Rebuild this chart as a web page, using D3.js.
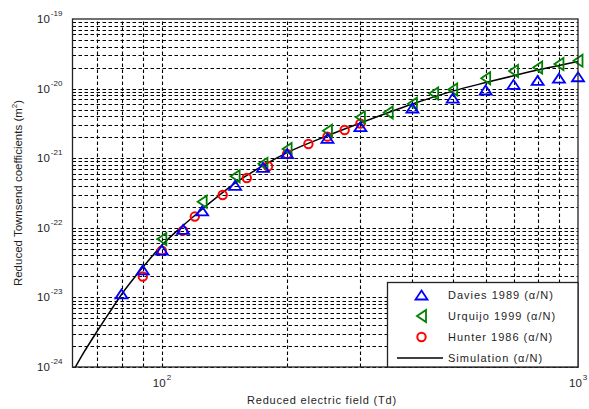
<!DOCTYPE html>
<html>
<head>
<meta charset="utf-8">
<script src="https://cdn.jsdelivr.net/npm/d3@7"></script>
<style>
    body { margin: 0; background: #fff; }
    text { font-family: "Liberation Sans", Arial, sans-serif; fill: #1e1e1e; }
</style>
</head>
<body>
<div class="visualization"></div>
<script>
// Davies 1989 (alpha/N)
const daviesField = [80, 90, 100, 112.5, 125, 150, 175, 200, 250, 300, 400, 500, 600, 700, 800, 900, 1000];
const daviesAlpha = [1.12e-23, 2.48e-23, 4.8e-23, 9.5e-23, 1.75e-22, 4.07e-22, 7.4e-22, 1.16e-21, 1.93e-21, 2.84e-21, 5.26e-21, 7.3e-21, 9.55e-21, 1.15e-20, 1.31e-20, 1.41e-20, 1.48e-20];

// Urquijo 1999 (alpha/N)
const urquijoField = [100, 125, 150, 175, 200, 250, 300, 350, 400, 450, 500, 600, 700, 800, 900, 1000];
const urquijoAlpha = [6.9e-23, 2.37e-22, 5.5e-22, 8.3e-22, 1.36e-21, 2.48e-21, 3.87e-21, 4.54e-21, 6.08e-21, 8.5e-21, 9.7e-21, 1.41e-20, 1.79e-20, 2.01e-20, 2.26e-20, 2.52e-20];

// Hunter 1986 (alpha/N)
const hunterField = [90, 100, 112.5, 120, 140, 160, 180, 200, 225, 250, 275, 300];
const hunterAlpha = [2.0e-23, 4.7e-23, 9.1e-23, 1.45e-22, 2.96e-22, 5.2e-22, 7.65e-22, 1.15e-21, 1.6e-21, 2.04e-21, 2.54e-21, 3.14e-21];

// Simulation (alpha/N)
const simField = [62, 65, 70, 75, 80, 90, 100, 112.5, 125, 150, 175, 200, 250, 300, 400, 500, 600, 700, 800, 900, 1000];
const simAlpha = [1.0e-24, 1.63e-24, 3.3e-24, 6.2e-24, 1.1e-23, 2.7e-23, 5.6e-23, 1.08e-22, 1.85e-22, 4.4e-22, 7.8e-22, 1.2e-21, 2.1e-21, 3.2e-21, 6.0e-21, 9.2e-21, 1.22e-20, 1.53e-20, 1.85e-20, 2.15e-20, 2.45e-20];

const xMajor = [100, 1000];
const xMinor = [70, 80, 90, 200, 300, 400, 500, 600, 700, 800, 900];
const yExponents = [-24, -23, -22, -21, -20, -19];

const legendNames = ['Davies 1989 (\u03b1/N)', 'Urquijo 1999 (\u03b1/N)', 'Hunter 1986 (\u03b1/N)', 'Simulation (\u03b1/N)'];

const divWidth = 589;
const divHeight = 409;
const margin = { top: 19, right: 11, bottom: 42, left: 72.5 };

let svg = d3.select('.visualization')
    .append('svg')
    .attr('width', divWidth)
    .attr('height', divHeight);

svg.append('rect')
    .attr('width', '100%')
    .attr('height', '100%')
    .attr('fill', '#fff');

const xScale = d3.scaleLog()
    .domain([61, 1000])
    .range([margin.left, divWidth - margin.right]);

const yScale = d3.scaleLog()
    .domain([1e-24, 1e-19])
    .range([divHeight - margin.bottom, margin.top]);

// all the grid lines, major and minor, dashed
let yGridVals = [];
for (let e = -24; e < -19; e++) {
    for (let m = 1; m < 10; m++) yGridVals.push(m * Math.pow(10, e));
}
let xGridVals = xMinor.concat([100]);

const grid = svg.append('g').attr('class', 'grid');

grid.selectAll('.hgrid')
    .data(yGridVals)
    .join('line')
    .attr('class', 'hgrid')
    .attr('x1', xScale.range()[0])
    .attr('x2', xScale.range()[1])
    .attr('y1', d => Math.round(yScale(d)) + 0.5)
    .attr('y2', d => Math.round(yScale(d)) + 0.5)
    .attr('stroke', '#000')
    .attr('stroke-width', 1.1)
    .attr('stroke-dasharray', '3.5,2.5');

grid.selectAll('.vgrid')
    .data(xGridVals)
    .join('line')
    .attr('class', 'vgrid')
    .attr('y1', yScale.range()[0])
    .attr('y2', yScale.range()[1])
    .attr('x1', d => Math.round(xScale(d)) + 0.5)
    .attr('x2', d => Math.round(xScale(d)) + 0.5)
    .attr('stroke', '#000')
    .attr('stroke-width', 1.1)
    .attr('stroke-dasharray', '3.5,2.5');

// simulation curve
const line = d3.line()
    .x(d => xScale(d[0]))
    .y(d => yScale(d[1]))
    .curve(d3.curveMonotoneX);

svg.append('path')
    .datum(d3.zip(simField, simAlpha))
    .attr('d', line)
    .attr('fill', 'none')
    .attr('stroke', '#000')
    .attr('stroke-width', 1.5);

// marker shapes
const triUp = 'M0,-4.5L6,4.5L-6,4.5Z';
const triLeft = 'M-4.5,0L4.5,-6L4.5,6Z';

svg.append('g')
    .selectAll('path')
    .data(d3.zip(hunterField, hunterAlpha))
    .join('circle')
    .attr('cx', d => xScale(d[0]))
    .attr('cy', d => yScale(d[1]))
    .attr('r', 4.2)
    .attr('fill', 'none')
    .attr('stroke', '#ff0000')
    .attr('stroke-width', 2);

svg.append('g')
    .selectAll('path')
    .data(d3.zip(urquijoField, urquijoAlpha))
    .join('path')
    .attr('d', triLeft)
    .attr('transform', d => `translate(${xScale(d[0])},${yScale(d[1])})`)
    .attr('fill', 'none')
    .attr('stroke', '#008000')
    .attr('stroke-width', 1.8);

svg.append('g')
    .selectAll('path')
    .data(d3.zip(daviesField, daviesAlpha))
    .join('path')
    .attr('d', triUp)
    .attr('transform', d => `translate(${xScale(d[0])},${yScale(d[1])})`)
    .attr('fill', 'none')
    .attr('stroke', '#0000ff')
    .attr('stroke-width', 1.8);

// axes box
svg.append('rect')
    .attr('x', xScale.range()[0])
    .attr('y', yScale.range()[1])
    .attr('width', xScale.range()[1] - xScale.range()[0])
    .attr('height', yScale.range()[0] - yScale.range()[1])
    .attr('fill', 'none')
    .attr('stroke', '#222')
    .attr('stroke-width', 1.3);

// tick labels with superscripts
const yLabels = svg.append('g')
    .selectAll('text')
    .data(yExponents)
    .join('text')
    .attr('x', 37)
    .attr('y', d => yScale(Math.pow(10, d)) + 4)
    .attr('font-size', '11.5px');
yLabels.append('tspan').text('10');
yLabels.append('tspan')
    .attr('dy', -7)
    .attr('dx', 1)
    .attr('font-size', '8px')
    .text(d => d);

const xLabels = svg.append('g')
    .selectAll('text')
    .data(xMajor)
    .join('text')
    .attr('x', d => xScale(d) - 9)
    .attr('y', 387)
    .attr('font-size', '11.5px');
xLabels.append('tspan').text('10');
xLabels.append('tspan')
    .attr('dy', -7)
    .attr('dx', 1)
    .attr('font-size', '8px')
    .text(d => Math.round(Math.log10(d)));

// axis titles
svg.append('text')
    .attr('x', 322)
    .attr('y', 404)
    .attr('text-anchor', 'middle')
    .attr('font-size', '11px')
    .attr('letter-spacing', '0.8px')
    .text('Reduced electric field (Td)');

let yTitle = svg.append('text')
    .attr('transform', 'translate(22,193) rotate(-90)')
    .attr('text-anchor', 'middle')
    .attr('font-size', '11.5px');
yTitle.append('tspan').text('Reduced Townsend coefficients (m');
yTitle.append('tspan').attr('dy', -5).attr('font-size', '8px').text('2');
yTitle.append('tspan').attr('dy', 5).text(')');

// legend
const legend = svg.append('g').attr('class', 'legend');

legend.append('rect')
    .attr('x', 387.5)
    .attr('y', 282.5)
    .attr('width', xScale.range()[1] - 387.5)
    .attr('height', yScale.range()[0] - 282.5)
    .attr('fill', '#fff')
    .attr('stroke', '#222')
    .attr('stroke-width', 1.3);

const legendY = [295, 316, 337, 358];
const markerX = 421.5;

legend.append('path')
    .attr('d', triUp)
    .attr('transform', `translate(${markerX},${legendY[0]})`)
    .attr('fill', 'none')
    .attr('stroke', '#0000ff')
    .attr('stroke-width', 1.8);

legend.append('path')
    .attr('d', triLeft)
    .attr('transform', `translate(${markerX},${legendY[1]})`)
    .attr('fill', 'none')
    .attr('stroke', '#008000')
    .attr('stroke-width', 1.8);

legend.append('circle')
    .attr('cx', markerX)
    .attr('cy', legendY[2])
    .attr('r', 4.2)
    .attr('fill', 'none')
    .attr('stroke', '#ff0000')
    .attr('stroke-width', 2);

legend.append('line')
    .attr('x1', 397)
    .attr('x2', 443)
    .attr('y1', legendY[3])
    .attr('y2', legendY[3])
    .attr('stroke', '#000')
    .attr('stroke-width', 1.5);

legend.selectAll('.legendText')
    .data(legendNames)
    .join('text')
    .attr('class', 'legendText')
    .attr('x', 448)
    .attr('y', (d, i) => legendY[i] + 4)
    .attr('font-size', '11px')
    .attr('letter-spacing', '1px')
    .text(d => d);
</script>
</body>
</html>
